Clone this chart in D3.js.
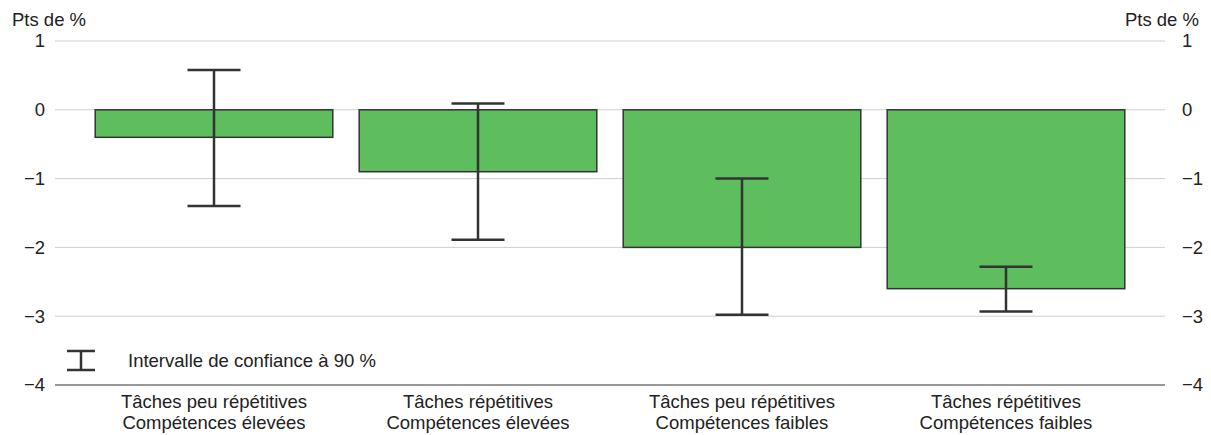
<!DOCTYPE html>
<html>
<head>
<meta charset="utf-8">
<script src="https://cdn.jsdelivr.net/npm/d3@7"></script>
<style>
  body { margin: 0; background: #fff; }
  text { font-family: "Liberation Sans", Arial, sans-serif; fill: #222; }
</style>
</head>
<body>
<svg id="chart" width="1211" height="435"></svg>
<script>
// Data
const categories = [
    ["Tâches peu répétitives", "Compétences élevées"],
    ["Tâches répétitives", "Compétences élevées"],
    ["Tâches peu répétitives", "Compétences faibles"],
    ["Tâches répétitives", "Compétences faibles"]
];
const values = [-0.4, -0.9, -2.0, -2.6];
const ciHigh = [0.58, 0.09, -1.0, -2.28];
const ciLow = [-1.4, -1.89, -2.98, -2.93];
const yTicks = [1, 0, -1, -2, -3, -4];
const unitLabel = "Pts de %";
const legendLabel = "Intervalle de confiance à 90 %";

const svg = d3.select("#chart");
const left = 55, right = 1165;
const fs = "18.5px";

const x = d3.scaleBand().domain(d3.range(categories.length)).range([82, 1138]).paddingInner(0.1).paddingOuter(0.05);
const y = d3.scaleLinear().domain([-4, 1]).range([385, 41]);

const fmt = d => d < 0 ? "\u2212" + Math.abs(d) : String(d);

// Grid
svg.append("g").selectAll("line")
    .data(yTicks.filter(d => d !== -4))
    .join("line")
    .attr("x1", left).attr("x2", right)
    .attr("y1", d => y(d)).attr("y2", d => y(d))
    .attr("stroke", "#cfcfcf").attr("stroke-width", 1);

// Tick labels both sides
svg.append("g").selectAll("text")
    .data(yTicks).join("text")
    .attr("x", 45).attr("y", d => y(d)).attr("dy", "0.35em")
    .attr("text-anchor", "end").style("font-size", fs)
    .text(fmt);
svg.append("g").selectAll("text")
    .data(yTicks).join("text")
    .attr("x", 1182).attr("y", d => y(d)).attr("dy", "0.35em")
    .attr("text-anchor", "start").style("font-size", fs)
    .text(fmt);

svg.append("text").attr("x", 12).attr("y", 26).style("font-size", fs).text(unitLabel);
svg.append("text").attr("x", 1199).attr("y", 26).attr("text-anchor", "end").style("font-size", fs).text(unitLabel);

// Bars
svg.append("g").selectAll("rect")
    .data(values).join("rect")
    .attr("x", (d, i) => x(i))
    .attr("width", x.bandwidth())
    .attr("y", d => y(Math.max(0, d)))
    .attr("height", d => Math.abs(y(d) - y(0)))
    .attr("fill", "#5ebd5c")
    .attr("stroke", "#333").attr("stroke-width", 1.5);

// Error bars
const capW = 53;
const err = svg.append("g").attr("stroke", "#333").attr("stroke-width", 2.5);
values.forEach((v, i) => {
    const cx = x(i) + x.bandwidth() / 2;
    err.append("line").attr("x1", cx).attr("x2", cx).attr("y1", y(ciHigh[i])).attr("y2", y(ciLow[i]));
    err.append("line").attr("x1", cx - capW / 2).attr("x2", cx + capW / 2).attr("y1", y(ciHigh[i])).attr("y2", y(ciHigh[i]));
    err.append("line").attr("x1", cx - capW / 2).attr("x2", cx + capW / 2).attr("y1", y(ciLow[i])).attr("y2", y(ciLow[i]));
});

// Bottom axis
const xAxis = svg.append("g").attr("transform", `translate(0,${y(-4)})`);
xAxis.append("line").attr("x1", left).attr("x2", right).attr("stroke", "#333").attr("stroke-width", 1.2);
categories.forEach((c, i) => {
    const cx = x(i) + x.bandwidth() / 2;
    const t = xAxis.append("text").attr("text-anchor", "middle").style("font-size", fs);
    t.append("tspan").attr("x", cx).attr("y", 23).text(c[0]);
    t.append("tspan").attr("x", cx).attr("y", 44).text(c[1]);
});

// Legend
const lg = svg.append("g").attr("stroke", "#333").attr("stroke-width", 2.5);
lg.append("line").attr("x1", 81).attr("x2", 81).attr("y1", 351).attr("y2", 370);
lg.append("line").attr("x1", 67).attr("x2", 95).attr("y1", 351).attr("y2", 351);
lg.append("line").attr("x1", 67).attr("x2", 95).attr("y1", 370).attr("y2", 370);
svg.append("text").attr("x", 128).attr("y", 367).style("font-size", fs).text(legendLabel);
</script>
</body>
</html>
